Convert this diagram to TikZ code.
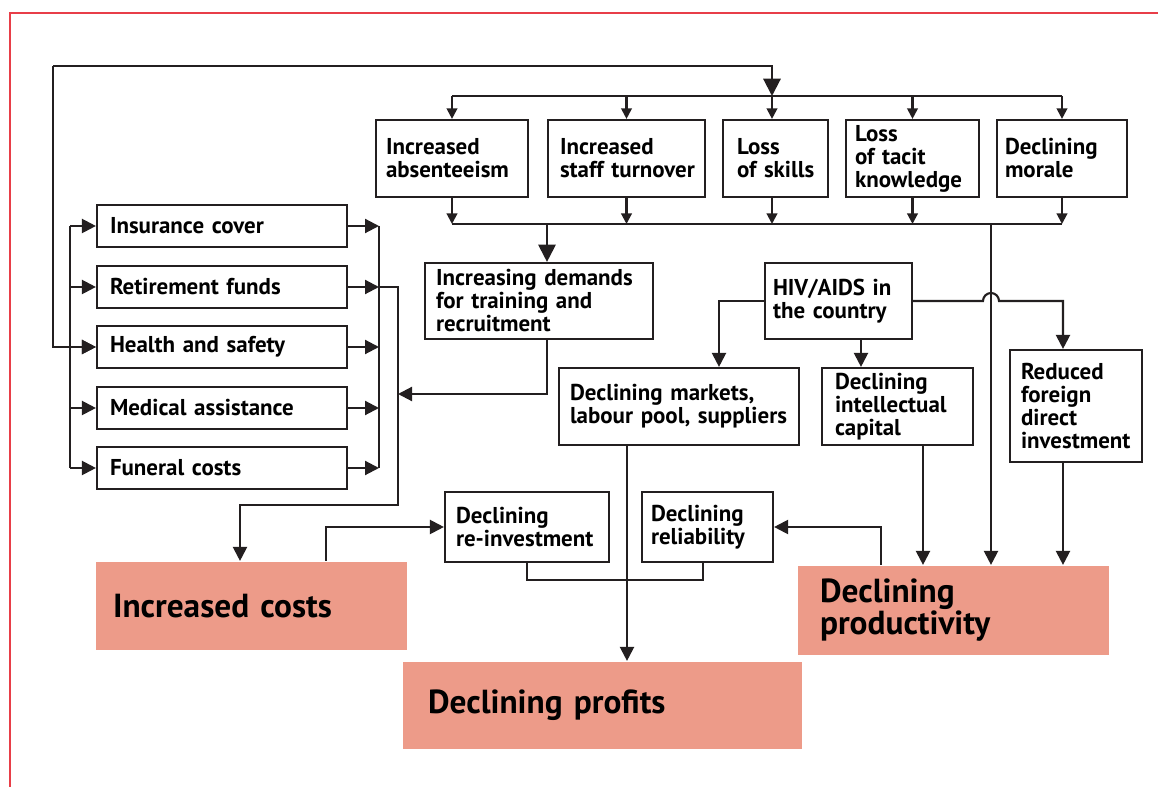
\documentclass[tikz,border=0pt]{standalone}
\usepackage{fontspec}
\setmainfont{PT Sans}
\usetikzlibrary{arrows.meta}
\definecolor{salmon}{RGB}{237,155,137}
\definecolor{framered}{RGB}{232,62,72}
\definecolor{ink}{RGB}{35,31,32}
\newcommand\mynohyph{\hyphenpenalty=10000 \exhyphenpenalty=10000 \relax}
\begin{document}
\begin{tikzpicture}[x=0.75pt,y=-0.75pt, line width=1.6pt, color=ink,
  txt/.style={font=\bfseries\fontsize{17.2}{17.25}\selectfont, execute at begin node=\mynohyph},
  bx/.style n args={3}{draw=ink, line width=1.6pt, txt, text=black, minimum height={#2*0.75pt}, text width={(#1-2*#3)*0.75pt}, inner xsep={#3*0.75pt}, inner ysep=0pt, align=left},
  big/.style n args={3}{fill=salmon, text=black, font=\bfseries\fontsize{25}{24}\selectfont, execute at begin node=\mynohyph, minimum height={#2*0.75pt}, text width={(#1-2*#3)*0.75pt}, inner xsep={#3*0.75pt}, inner ysep=0pt, align=left},
  arrS/.style={-{Triangle[length=8pt,width=8pt]}},
  arrM/.style={-{Triangle[length=10.5pt,width=10.5pt]}},
  arrL/.style={-{Triangle[length=13pt,width=13pt]}}
]
\useasboundingbox (0,0) rectangle (1158,787);
\draw[framered, line width=1.5pt] (10,787) -- (10,13) -- (1158,13);

% top row
\node[bx={152}{77}{10}] (abs) at (452,158.5) {Increased\\absenteeism};
\node[bx={157}{77}{12}] (staff) at (626.5,158.5) {Increased\\staff~turnover};
\node[bx={105}{77}{14}] (skills) at (775.5,158.5) {Loss\\of~skills};
\node[bx={133}{77}{9}] (tacit) at (912.5,158.5) {Loss\\of~tacit\\knowledge};
\node[bx={130}{77}{8}] (morale) at (1062,158.5) {Declining\\morale};

% left column
\node[bx={250}{42}{13}] (ins) at (222,226) {Insurance~cover};
\node[bx={250}{42}{13}] (ret) at (222,287) {Retirement~funds};
\node[bx={250}{42}{13}] (hs) at (222,347) {Health~and~safety};
\node[bx={250}{42}{13}] (med) at (222,408) {Medical~assistance};
\node[bx={250}{42}{13}] (fun) at (222,468) {Funeral~costs};

% middle
\node[bx={228}{76}{11}] (dem) at (539,301) {Increasing~demands\\for~training~and\\recruitment};
\node[bx={147}{76}{8}] (hiv) at (838.5,301) {HIV/AIDS~in\\the~country};
\node[bx={240}{77}{11}] (mkt) at (679,406.5) {Declining~markets,\\labour~pool,~suppliers};
\node[bx={151}{77}{13}] (intel) at (897.5,406.5) {Declining\\intellectual\\capital};
\node[bx={132}{112}{11}] (fdi) at (1076,406) {Reduced\\foreign\\direct\\investment};
\node[bx={164}{70}{11}] (reinv) at (527,527) {Declining\\re-investment};
\node[bx={131}{70}{9}] (relia) at (707.5,527) {Declining\\reliability};

% outcomes
\node[big={311}{88}{17}] (costs) at (251.5,606) {Increased~costs};
\node[big={399}{87}{25}] (profits) at (602.5,705.5) {Declining~profits};
\node[big={311}{89}{22}] (prod) at (953.5,610.5) {Declining\\productivity};

% coordinates
\coordinate (loopTL) at (53,66);
\coordinate (loopTR) at (772,66);
\coordinate (busT) at (772,96);
\coordinate (busB) at (772,224);
\coordinate (dj) at (547,224);
\coordinate (pj) at (991,224);
\coordinate (lv) at (70,226);
\coordinate (rv) at (379,226);
\coordinate (cv) at (398,505);
\coordinate (ca) at (240,505);
\coordinate (dm) at (398,394);
\coordinate (hm) at (719,301);
\coordinate (hi) at (861,339);
\coordinate (hr) at (1063,301);
\coordinate (mp) at (627,445);
\coordinate (rj) at (703,580);
\coordinate (cr) at (326,524);
\coordinate (pr) at (881,524);
\coordinate (ip) at (923,445);

% feedback loop
\draw[arrL] (loopTL) -- (loopTR) -- (busT);
\draw[arrM] (loopTL) |- (hs.west);

% top distribution bus
\draw (abs.north |- busT) -- (morale.north |- busT);
\draw[arrS] (abs.north |- busT) -- (abs.north);
\draw[arrS] (staff.north |- busT) -- (staff.north);
\draw[arrS] (busT) -- (busT |- skills.north);
\draw[arrS] (tacit.north |- busT) -- (tacit.north);
\draw[arrS] (morale.north |- busT) -- (morale.north);

% bottom collector bus
\draw (abs.south |- busB) -- (morale.south |- busB);
\draw[arrS] (abs.south) -- (abs.south |- busB);
\draw[arrS] (staff.south) -- (staff.south |- busB);
\draw[arrS] (busT |- skills.south) -- (busB);
\draw[arrS] (tacit.south) -- (tacit.south |- busB);
\draw[arrS] (morale.south) -- (morale.south |- busB);
\draw[arrL] (dj) -- (dj |- dem.north);
\draw[arrM] (pj) -- (pj |- prod.north);

% left distribution
\draw (lv |- ins.west) -- (lv |- fun.west);
\foreach \b in {ins,ret,hs,med,fun} {
  \draw[arrM] (lv |- \b.west) -- (\b.west);
  \draw[arrM] (\b.east) -- (rv |- \b.east);
}
\draw (rv |- ins.east) -- (rv |- fun.east);
\draw[arrM] (rv |- ret.east) -| (cv) -- (ca) -- (ca |- costs.north);
\draw[arrM] (dem.south -| dj) |- (dm);

% HIV
\draw[arrM] (hiv.west) -- (hm) -- (hm |- mkt.north);
\draw[arrM] (hi) -- (hi |- intel.north);
\draw[arrM] (hiv.east) -- (983,301) arc[start angle=180, end angle=360, radius=8] -- (hr) -- (hr |- fdi.north);

% to outcomes
\draw[arrM] (mp) -- (mp |- profits.north);
\draw (reinv.south) |- (rj) -- (rj |- relia.south);
\draw[arrM] (costs.north -| cr) |- (reinv.west);
\draw[arrM] (prod.north -| pr) |- (relia.east);
\draw[arrM] (ip) -- (ip |- prod.north);
\draw[arrM] (fdi.south -| hr) -- (hr |- prod.north);
\end{tikzpicture}
\end{document}
